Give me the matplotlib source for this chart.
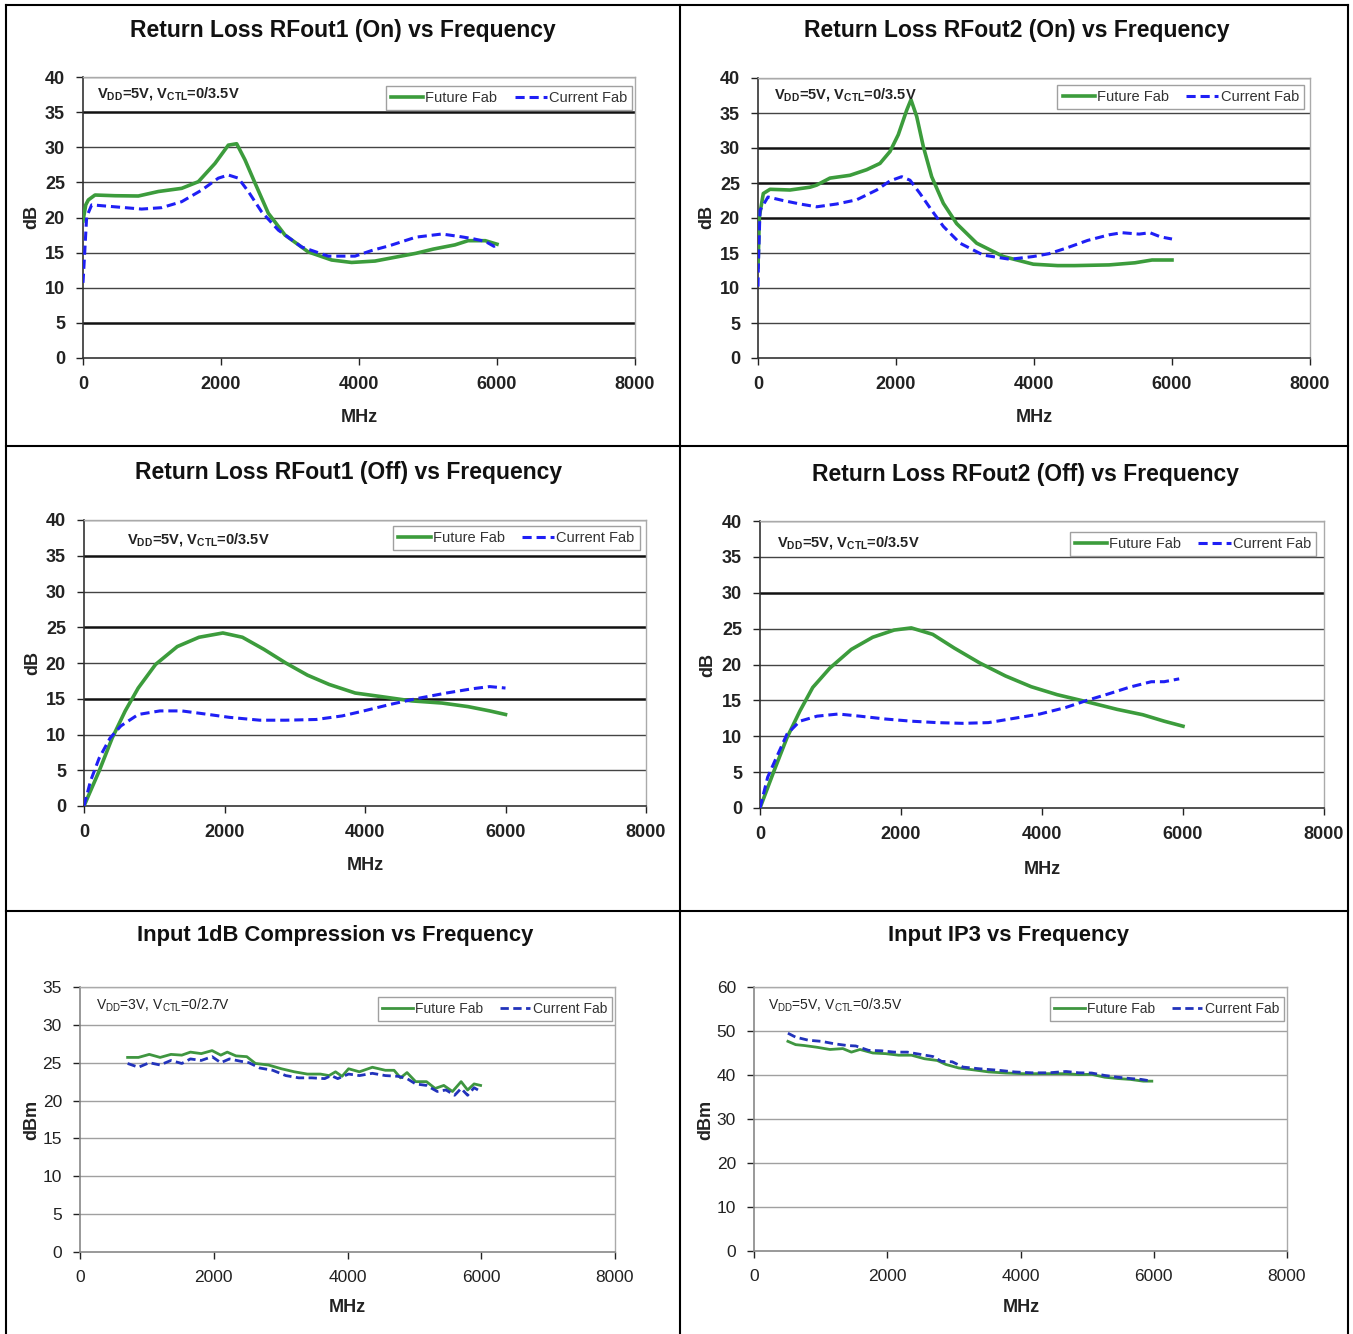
import matplotlib.pyplot as plt
from matplotlib.lines import Line2D

plt.rcParams['font.family'] = ['Liberation Sans', 'DejaVu Sans']
plt.rcParams['mathtext.fontset'] = 'custom'
plt.rcParams['mathtext.rm'] = 'Liberation Sans'
plt.rcParams['mathtext.bf'] = 'Liberation Sans:bold'

W, H = 1353, 1334

# --- Return Loss RFout1 (On)
rl1_on_future_x = [0, 40, 77, 174, 464, 802, 1092, 1430, 1672, 1913, 2106, 2227, 2348, 2493, 2686,
                   2928, 3265, 3603, 3893, 4232, 4447, 4824, 5075, 5390, 5580, 5830, 6000]
rl1_on_future_y = [19.5, 21.8, 22.5, 23.2, 23.1, 23.06, 23.7, 24.15, 25.1, 27.7, 30.3, 30.5, 28.2, 24.9, 20.6,
                   17.5, 15.1, 13.95, 13.6, 13.8, 14.2, 14.9, 15.5, 16.1, 16.7, 16.7, 16.2]
rl1_on_current_x = [0, 19, 53, 126, 367, 609, 850, 1140, 1430, 1720, 1961, 2106, 2251, 2396, 2589,
                    2831, 3169, 3555, 3942, 4184, 4447, 4824, 5201, 5453, 5642, 5830, 5956, 6000]
rl1_on_current_y = [10.7, 14.0, 20.1, 21.8, 21.6, 21.4, 21.2, 21.4, 22.25, 23.9, 25.6, 26.05, 25.6, 23.7, 20.8,
                    18.2, 15.8, 14.5, 14.5, 15.3, 16.0, 17.2, 17.65, 17.3, 17.0, 16.6, 15.9, 16.1]

# --- Return Loss RFout2 (On)
rl2_on_future_x = [0, 20, 77, 174, 464, 754, 850, 1043, 1333, 1575, 1768, 1913, 2033, 2155, 2217, 2300,
                   2396, 2517, 2686, 2879, 3169, 3555, 3990, 4342, 4591, 5089, 5462, 5711, 6000]
rl2_on_future_y = [13.0, 20.2, 23.5, 24.1, 24.0, 24.4, 24.7, 25.7, 26.1, 26.9, 27.8, 29.5, 31.9, 35.4, 36.9, 34.5,
                   30.2, 25.9, 22.1, 19.2, 16.4, 14.5, 13.4, 13.2, 13.2, 13.3, 13.6, 14.0, 14.0]
rl2_on_current_x = [0, 5, 29, 145, 362, 609, 850, 1140, 1430, 1720, 1913, 2082, 2203, 2348, 2517, 2686,
                    2928, 3265, 3652, 3990, 4218, 4467, 4778, 5089, 5275, 5524, 5680, 5835, 6000]
rl2_on_current_y = [10.2, 13.0, 21.1, 23.0, 22.5, 22.0, 21.6, 22.0, 22.6, 24.0, 25.3, 25.9, 25.4, 23.5, 21.1, 18.8,
                    16.4, 14.7, 14.1, 14.5, 14.9, 15.7, 16.8, 17.6, 17.9, 17.7, 17.9, 17.3, 17.0]

# --- Return Loss RFout1 (Off)
rl1_off_future_x = [0, 216, 401, 587, 772, 1019, 1328, 1637, 1977, 2255, 2563, 2872, 3181, 3490,
                    3861, 4231, 4663, 5096, 5467, 5775, 6000]
rl1_off_future_y = [0.0, 4.9, 9.5, 13.3, 16.5, 19.8, 22.3, 23.6, 24.2, 23.6, 21.9, 20.0, 18.3, 17.0,
                    15.8, 15.3, 14.7, 14.4, 13.9, 13.3, 12.8]
rl1_off_current_x = [0, 93, 216, 371, 525, 772, 1081, 1390, 1699, 2069, 2502, 2872, 3305, 3675,
                     3984, 4355, 4725, 5158, 5529, 5775, 6000]
rl1_off_current_y = [0.0, 3.5, 6.7, 9.5, 11.2, 12.8, 13.3, 13.3, 12.9, 12.4, 12.0, 12.0, 12.1, 12.6,
                     13.3, 14.2, 15.0, 15.8, 16.4, 16.7, 16.5]

# --- Return Loss RFout2 (Off)
rl2_off_future_x = [0, 200, 383, 565, 748, 991, 1295, 1599, 1903, 2146, 2450, 2754, 3119, 3483,
                    3848, 4213, 4638, 5064, 5429, 5733, 6000]
rl2_off_future_y = [0.0, 5.2, 9.8, 13.5, 16.8, 19.5, 22.1, 23.8, 24.8, 25.1, 24.2, 22.3, 20.2, 18.4,
                    16.9, 15.8, 14.8, 13.75, 13.0, 12.1, 11.4]
rl2_off_current_x = [0, 109, 231, 383, 565, 809, 1112, 1416, 1781, 2146, 2511, 2875, 3240, 3605,
                     3970, 4334, 4638, 4942, 5246, 5550, 5733, 5946]
rl2_off_current_y = [0.0, 4.3, 7.0, 10.3, 12.1, 12.8, 13.1, 12.8, 12.4, 12.1, 11.9, 11.8, 11.9, 12.5,
                     13.1, 14.0, 15.0, 15.9, 16.85, 17.6, 17.6, 18.0]

# --- Input 1dB Compression
p1db_future_x = [712, 874, 1036, 1198, 1360, 1522, 1651, 1813, 1975, 2105, 2202, 2332, 2494, 2623, 2817,
                 3012, 3206, 3400, 3595, 3724, 3821, 3918, 4016, 4178, 4372, 4566, 4696, 4793, 4890,
                 5019, 5181, 5311, 5440, 5570, 5699, 5796, 5893, 5990]
p1db_future_y = [25.7, 25.7, 26.1, 25.7, 26.1, 26.0, 26.4, 26.2, 26.6, 26.0, 26.4, 25.9, 25.8, 24.9, 24.7,
                 24.2, 23.8, 23.5, 23.5, 23.3, 23.8, 23.2, 24.2, 23.8, 24.4, 24.0, 24.0, 23.0, 23.7,
                 22.5, 22.5, 21.6, 22.0, 21.2, 22.5, 21.4, 22.2, 22.0]
p1db_current_x = [712, 874, 1036, 1198, 1360, 1522, 1651, 1813, 1975, 2105, 2235, 2397, 2526, 2688, 2882,
                  3077, 3271, 3465, 3659, 3756, 3854, 4016, 4178, 4372, 4566, 4760, 4890, 5019, 5181,
                  5343, 5473, 5602, 5699, 5796, 5893, 5990]
p1db_current_y = [24.9, 24.4, 25.0, 24.7, 25.3, 24.9, 25.5, 25.3, 25.8, 25.0, 25.5, 25.2, 25.0, 24.3, 24.0,
                  23.3, 23.0, 23.0, 22.9, 23.3, 22.9, 23.5, 23.3, 23.6, 23.3, 23.2, 22.9, 22.2, 22.0,
                  21.2, 21.4, 20.7, 21.6, 20.7, 21.7, 21.2]

# --- Input IP3
ip3_future_x = [509, 625, 754, 947, 1140, 1333, 1462, 1591, 1784, 1977, 2171, 2364, 2557, 2750, 2879,
                3072, 3330, 3523, 3781, 4039, 4361, 4683, 4876, 5069, 5263, 5456, 5649, 5842, 5971]
ip3_future_y = [47.65, 46.9, 46.7, 46.3, 45.8, 46.0, 45.2, 45.8, 45.0, 44.85, 44.5, 44.5, 43.7, 43.3, 42.4,
                41.6, 41.1, 40.7, 40.45, 40.3, 40.3, 40.3, 40.1, 40.15, 39.5, 39.2, 39.0, 38.6, 38.6]
ip3_current_x = [509, 625, 818, 1011, 1205, 1398, 1527, 1720, 1913, 2106, 2300, 2493, 2686, 2815, 2976,
                 3137, 3395, 3652, 3910, 4168, 4425, 4683, 4876, 5069, 5263, 5456, 5649, 5810, 5971]
ip3_current_y = [49.5, 48.6, 47.9, 47.65, 47.1, 46.7, 46.6, 45.6, 45.5, 45.2, 45.2, 44.7, 44.2, 43.1, 43.0,
                 41.8, 41.4, 41.1, 40.7, 40.5, 40.5, 40.8, 40.5, 40.45, 39.9, 39.5, 39.2, 39.0, 38.6]

x_ticks = [0, 2000, 4000, 6000, 8000]
legend_labels = ['Future Fab', 'Current Fab']


def rect(l, t, r, b):
    return [l / W, 1 - b / H, (r - l) / W, (b - t) / H]


def fx(x):
    return x / W


def fy(y):
    return 1 - y / H


fig = plt.figure(figsize=(W / 100, H / 100), dpi=100)

panels = [
    dict(box=(83, 77, 635, 358), title='Return Loss RFout1 (On) vs Frequency', title_xy=(343, 31),
         ylab='dB', ylab_xy=(32, 217), xlab_xy=(359, 417), ymax=40, ystep=5,
         fut=(rl1_on_future_x, rl1_on_future_y), cur=(rl1_on_current_x, rl1_on_current_y),
         note=r'V$_{\mathbf{DD}}$=5V, V$_{\mathbf{CTL}}$=0/3.5V', note_xy=(0.025, 0.94),
         leg=(0.995, 0.968), bold=True, heavy=[35, 5]),
    dict(box=(758, 78, 1310, 358), title='Return Loss RFout2 (On) vs Frequency', title_xy=(1017, 31),
         ylab='dB', ylab_xy=(707, 217), xlab_xy=(1034, 417), ymax=40, ystep=5,
         fut=(rl2_on_future_x, rl2_on_future_y), cur=(rl2_on_current_x, rl2_on_current_y),
         note=r'V$_{\mathbf{DD}}$=5V, V$_{\mathbf{CTL}}$=0/3.5V', note_xy=(0.029, 0.939),
         leg=(0.989, 0.975), bold=True, heavy=[30, 25, 20]),
    dict(box=(84, 520, 646, 806), title='Return Loss RFout1 (Off) vs Frequency', title_xy=(349, 473),
         ylab='dB', ylab_xy=(33, 663), xlab_xy=(365, 866), ymax=40, ystep=5,
         fut=(rl1_off_future_x, rl1_off_future_y), cur=(rl1_off_current_x, rl1_off_current_y),
         note=r'V$_{\mathbf{DD}}$=5V, V$_{\mathbf{CTL}}$=0/3.5V', note_xy=(0.077, 0.93),
         leg=(0.989, 0.979), bold=True, heavy=[35, 25, 15]),
    dict(box=(760, 521, 1324, 808), title='Return Loss RFout2 (Off) vs Frequency', title_xy=(1026, 474),
         ylab='dB', ylab_xy=(708, 665), xlab_xy=(1042, 870), ymax=40, ystep=5,
         fut=(rl2_off_future_x, rl2_off_future_y), cur=(rl2_off_current_x, rl2_off_current_y),
         note=r'V$_{\mathbf{DD}}$=5V, V$_{\mathbf{CTL}}$=0/3.5V', note_xy=(0.03, 0.923),
         leg=(0.986, 0.962), bold=True, heavy=[30]),
    dict(box=(80, 987, 615, 1252), title='Input 1dB Compression vs Frequency', title_xy=(335, 936),
         ylab='dBm', ylab_xy=(32, 1120), xlab_xy=(347, 1307), ymax=35, ystep=5,
         fut=(p1db_future_x, p1db_future_y), cur=(p1db_current_x, p1db_current_y),
         note=r'V$_{\mathrm{DD}}$=3V, V$_{\mathrm{CTL}}$=0/2.7V', note_xy=(0.03, 0.932),
         leg=(0.994, 0.962), bold=False, heavy=[]),
    dict(box=(754, 987, 1287, 1251), title='Input IP3 vs Frequency', title_xy=(1008, 936),
         ylab='dBm', ylab_xy=(706, 1120), xlab_xy=(1021, 1307), ymax=60, ystep=10,
         fut=(ip3_future_x, ip3_future_y), cur=(ip3_current_x, ip3_current_y),
         note=r'V$_{\mathrm{DD}}$=5V, V$_{\mathrm{CTL}}$=0/3.5V', note_xy=(0.026, 0.932),
         leg=(0.994, 0.962), bold=False, heavy=[]),
]

for p in panels:
    ax = fig.add_axes(rect(*p['box']))
    bold = p['bold']
    w = 'bold' if bold else 'normal'
    green = '#3c9c3c' if bold else '#3f9640'
    blue = '#1f1ff5' if bold else '#2233bb'
    lw_g = 2.6 if bold else 2.0
    lw_b = 2.2 if bold else 2.0

    yt = list(range(0, p['ymax'] + 1, p['ystep']))
    grid_c = '#444444' if bold else '#a0a0a0'
    for v in yt[1:]:
        heavy = v in p['heavy']
        ax.axhline(v, color='#111111' if heavy else grid_c,
                   lw=(1.8 if heavy else 1.0), zorder=1)

    ax.plot(*p['fut'], color=green, lw=lw_g, zorder=3, label=legend_labels[0])
    ax.plot(*p['cur'], color=blue, lw=lw_b, ls=(0, (3, 1.6)), zorder=4, label=legend_labels[1])

    ax.set_xlim(0, 8000)
    ax.set_ylim(0, p['ymax'])
    ax.set_xticks(x_ticks)
    ax.set_yticks(yt)
    ax.tick_params(direction='out', length=5, width=1, pad=8,
                   labelsize=13 if bold else 12.5, colors='#222222')
    for lab in ax.get_xticklabels() + ax.get_yticklabels():
        lab.set_fontweight(w)
    spine_c = '#333333' if bold else '#888888'
    for s in ['left', 'bottom']:
        ax.spines[s].set_color(spine_c)
        ax.spines[s].set_linewidth(1.2)
    for s in ['top', 'right']:
        ax.spines[s].set_color('#aaaaaa')
        ax.spines[s].set_linewidth(1.0)

    ax.text(p['note_xy'][0], p['note_xy'][1], p['note'], transform=ax.transAxes,
            fontsize=10.5 if bold else 10, fontweight=w, color='#222222', va='center', ha='left')

    leg = ax.legend(loc='upper right', bbox_to_anchor=p['leg'], ncol=2,
                    fontsize=10.5 if bold else 10,
                    frameon=True, fancybox=False, borderaxespad=0, handlelength=2.2,
                    handletextpad=0.15, columnspacing=1.2, borderpad=0.35)
    leg.get_frame().set_edgecolor('#888888')
    leg.get_frame().set_linewidth(1.0)
    for t in leg.get_texts():
        t.set_color('#333333')

    tx, ty = p['title_xy']
    fig.text(fx(tx), fy(ty), p['title'], ha='center', va='center',
             fontsize=16.5 if bold else 15.8, fontweight='bold', color='#111111')
    lx, ly = p['ylab_xy']
    fig.text(fx(lx), fy(ly), p['ylab'], ha='center', va='center', rotation=90,
             fontsize=13, fontweight='bold', color='#222222')
    mx, my = p['xlab_xy']
    fig.text(fx(mx), fy(my), 'MHz', ha='center', va='center',
             fontsize=13, fontweight='bold', color='#222222')

# table borders around the six charts
for x in [6, 680, 1348]:
    fig.add_artist(Line2D([fx(x), fx(x)], [fy(5), fy(1334)], transform=fig.transFigure,
                          color='black', lw=1.5))
for y in [5, 446, 911]:
    fig.add_artist(Line2D([fx(6), fx(1348)], [fy(y), fy(y)], transform=fig.transFigure,
                          color='black', lw=1.5))

fig.savefig('out.png', dpi=100, facecolor='white')
